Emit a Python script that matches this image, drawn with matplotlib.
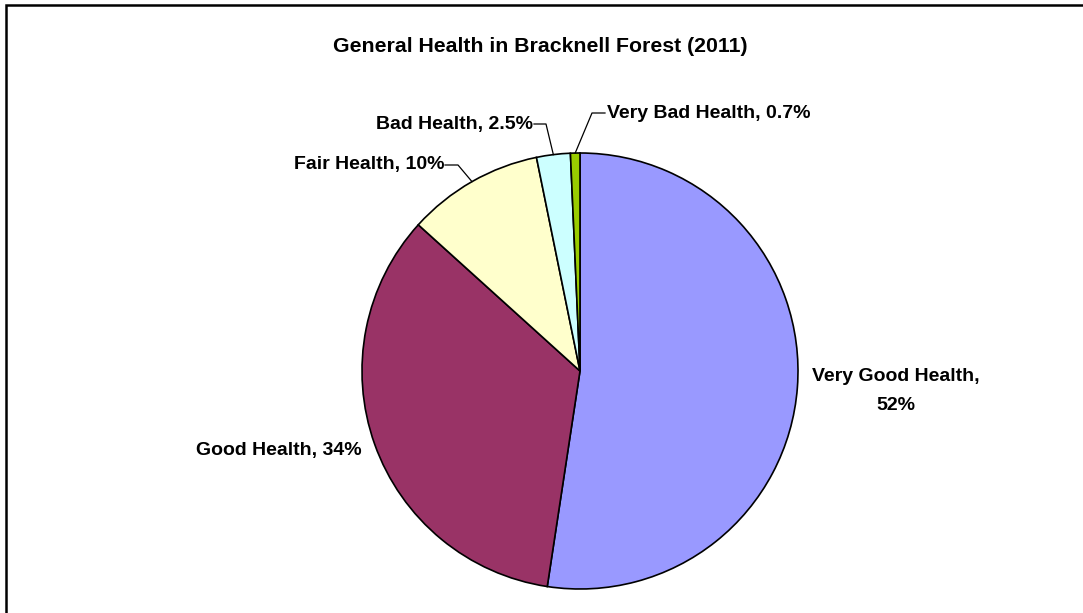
import numpy as np
import matplotlib
matplotlib.use("Agg")
import matplotlib.pyplot as plt
from matplotlib.patches import Rectangle

plt.rcParams['font.family'] = ['Liberation Sans', 'DejaVu Sans']

title = "General Health in Bracknell Forest (2011)"
categories = ["Very Good Health", "Good Health", "Fair Health", "Bad Health", "Very Bad Health"]
values = [52.4, 34.3, 10.1, 2.5, 0.7]
pct_labels = ["52%", "34%", "10%", "2.5%", "0.7%"]
colors = ["#9999FF", "#993366", "#FFFFCC", "#CCFFFF", "#99CC00"]

W, H = 1083, 613
fig = plt.figure(figsize=(W / 100, H / 100), dpi=100)
ax = fig.add_axes([0, 0, 1, 1])
ax.set_xlim(0, W)
ax.set_ylim(0, H)
ax.set_aspect('equal')
ax.axis('off')

def py(y):
    return H - y

cx, cy, r = 580, py(371), 218
wedges, _ = ax.pie(values, colors=colors, startangle=90, counterclock=False,
                   center=(cx, cy), radius=r, frame=True,
                   wedgeprops=dict(edgecolor='black', linewidth=1.2))
ax.set_xlim(0, W)
ax.set_ylim(0, H)
ax.axis('off')

# figure border
ax.add_patch(Rectangle((5.5, py(H + 10)), W + 20, H + 5.5, fill=False,
                       edgecolor='black', linewidth=1.8, clip_on=False))

ax.text(540, py(46), title, ha='center', va='center', fontsize=15.3, fontweight='bold')

fs = 14
txt = lambda i: f"{categories[i]}, {pct_labels[i]}"

def edge_point(w):
    a = np.deg2rad((w.theta1 + w.theta2) / 2)
    return cx + r * np.cos(a), cy + r * np.sin(a)

# Very Good Health
ax.text(896, py(391), f"{categories[0]},\n{pct_labels[0]}", ha='center', va='center',
        fontsize=fs, fontweight='bold', linespacing=1.85)
# Good Health
ax.text(362, py(450), txt(1), ha='right', va='center', fontsize=fs, fontweight='bold')
# Fair Health
ax.text(444, py(165), txt(2), ha='right', va='center', fontsize=fs, fontweight='bold')
ex, ey = edge_point(wedges[2])
ax.plot([445, 458, ex], [py(165), py(165), ey], color='black', lw=0.9)
# Bad Health
ax.text(533, py(124), txt(3), ha='right', va='center', fontsize=fs, fontweight='bold')
ex, ey = edge_point(wedges[3])
ax.plot([534, 546, ex], [py(124), py(124), ey], color='black', lw=0.9)
# Very Bad Health
ax.text(607, py(113), txt(4), ha='left', va='center', fontsize=fs, fontweight='bold')
ex, ey = edge_point(wedges[4])
ax.plot([605, 592, ex], [py(113), py(113), ey], color='black', lw=0.9)

fig.savefig("out.png", dpi=100)
